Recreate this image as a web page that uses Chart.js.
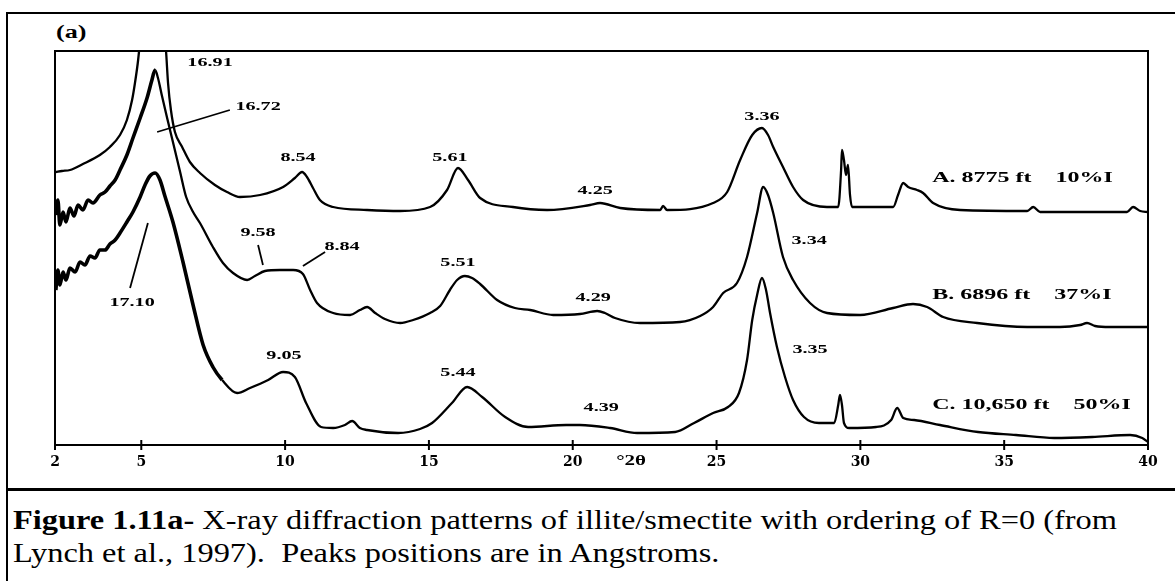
<!DOCTYPE html>
<html>
<head>
<meta charset="utf-8">
<title>XRD patterns, illite/smectite R=0</title>
<script src="https://cdn.jsdelivr.net/npm/chart.js@4.4.0/dist/chart.umd.min.js"></script>
<style>
    html, body { margin: 0; padding: 0; background: #fff; width: 1175px; height: 581px; overflow: hidden; }
    #frame { position: absolute; left: 6px; top: 12px; width: 1200px; height: 620px; border: 2px solid #000; }
    #rule { position: absolute; left: 6px; top: 488px; width: 1175px; height: 3px; background: #000; }
    #panel { position: absolute; left: 56px; top: 22px; font: bold 18px "Liberation Serif"; transform: scaleX(1.45); transform-origin: left top; }
    #caption { position: absolute; left: 13px; top: 504px; font-family: "Liberation Serif"; font-size: 27px; line-height: 33px; white-space: nowrap; color: #000; transform: scaleX(1.2); transform-origin: left top; }
    canvas { position: absolute; left: 0; top: 0; }
</style>
</head>
<body>
<div id="frame"></div>
<div id="panel">(a)</div>
<canvas id="xrd" width="1175" height="480"></canvas>
<div id="rule"></div>
<div id="caption"><b>Figure 1.11a-</b> X-ray diffraction patterns of illite/smectite with ordering of R=0 (from<br>Lynch et al., 1997).&nbsp; Peaks positions are in Angstroms.</div>

<script>
// Scan positions (degrees 2-theta) and counts (arbitrary, offset per sample)
const thetaA = [2.03, 2.24, 2.52, 2.97, 3.56, 3.91, 4.26, 4.50, 4.68, 4.78, 4.89, 4.99, 5.13, 5.30, 5.51, 5.72, 5.86, 5.93, 6.03, 6.17,
    6.42, 6.69, 7.04, 7.56, 7.98, 8.43, 9.13, 9.93, 10.34, 10.59, 10.76, 10.97, 11.21, 11.67, 12.85, 14.00, 15.04, 15.63, 16.01, 16.36,
    16.78, 17.92, 19.11, 20.60, 20.95, 21.65, 23.04, 23.14, 23.28, 24.88, 25.37, 25.82, 26.24, 26.58, 26.79, 26.97, 27.31, 27.66, 28.01, 28.84,
    29.23, 29.33, 29.36, 29.43, 29.50, 29.57, 29.64, 29.71, 31.14, 31.31, 31.49, 31.66, 31.97, 32.18, 32.53, 33.47, 35.80, 36.01, 36.25, 39.27,
    39.48, 39.73, 40.00];
const countsA = [273, 274, 275, 281, 290, 298, 310, 325, 345, 362, 385, 415, 465, 505, 485, 435, 394, 362, 335, 313,
    298, 283, 272, 260, 253, 248, 250, 258, 267, 273, 268, 257, 245, 238, 235, 234, 238, 255, 277, 265,
    247, 238, 235, 240, 242, 237, 235, 239, 235, 242, 253, 285, 310, 317, 310, 298, 278, 258, 245, 238,
    238, 275, 295, 285, 270, 280, 250, 238, 238, 250, 262, 258, 255, 252, 242, 235, 234, 238, 233, 233,
    238, 234, 233];

const thetaB = [2.03, 2.10, 2.17, 2.28, 2.38, 2.52, 2.66, 2.80, 2.97, 3.15, 3.32, 3.56, 3.74, 3.91, 4.09, 4.26, 4.50, 4.71, 4.96, 5.20,
    5.37, 5.48, 5.58, 5.72, 5.89, 6.10, 6.35, 6.56, 6.80, 7.04, 7.49, 7.84, 8.19, 8.68, 8.95, 9.30, 9.82, 10.28, 10.62, 10.87,
    11.11, 11.67, 12.26, 12.60, 12.85, 13.13, 13.47, 14.00, 14.45, 15.04, 15.39, 15.73, 15.98, 16.25, 16.50, 16.78, 17.37, 17.99, 18.52, 19.32,
    20.25, 20.85, 21.12, 21.47, 22.34, 23.73, 24.43, 24.88, 25.23, 25.71, 26.06, 26.41, 26.62, 26.79, 26.97, 27.31, 27.66, 28.25, 28.84, 29.99,
    31.14, 31.83, 32.32, 32.88, 34.06, 35.80, 36.94, 37.64, 37.88, 38.16, 38.68, 40.00];
const countsB = [230, 245, 220, 233, 223, 237, 229, 240, 235, 245, 242, 250, 253, 259, 265, 275, 290, 307, 327, 347,
    365, 375, 367, 349, 328, 303, 273, 248, 233, 222, 198, 182, 172, 165, 169, 174, 175, 175, 171, 155,
    142, 132, 130, 135, 138, 132, 126, 122, 125, 132, 139, 155, 165, 169, 167, 161, 145, 137, 135, 130,
    131, 134, 132, 127, 122, 123, 129, 138, 152, 162, 188, 232, 258, 250, 232, 188, 165, 142, 132, 130,
    137, 141, 138, 128, 122, 118, 118, 120, 122, 119, 118, 118];

const thetaC = [2.03, 2.10, 2.17, 2.28, 2.38, 2.52, 2.70, 2.87, 3.04, 3.22, 3.39, 3.56, 3.74, 3.91, 4.09, 4.26, 4.50, 4.71, 4.96, 5.13,
    5.30, 5.48, 5.65, 5.82, 6.10, 6.45, 6.80, 7.15, 7.49, 7.81, 8.33, 8.78, 9.41, 9.93, 10.34, 10.73, 11.25, 11.67, 12.08, 12.33,
    12.60, 12.85, 13.93, 14.69, 15.11, 15.80, 16.33, 16.85, 17.65, 18.45, 19.77, 20.25, 21.30, 22.24, 23.56, 24.22, 24.88, 25.40, 25.78, 26.06,
    26.24, 26.41, 26.58, 26.72, 26.86, 27.10, 27.38, 27.66, 28.04, 28.56, 29.09, 29.23, 29.29, 29.36, 29.43, 29.61, 30.55, 31.07, 31.28, 31.49,
    31.87, 32.77, 34.09, 35.41, 36.74, 38.06, 39.38, 39.80, 40.00];
const countsC = [155, 175, 160, 173, 165, 177, 173, 183, 180, 189, 187, 195, 195, 201, 205, 212, 223, 233, 248, 260,
    269, 272, 265, 249, 223, 183, 140, 100, 78, 65, 52, 57, 65, 73, 68, 42, 18, 17, 20, 24,
    17, 15, 12, 16, 22, 42, 58, 48, 28, 18, 20, 20, 17, 12, 13, 22, 32, 38, 52, 85,
    125, 150, 167, 155, 132, 98, 68, 45, 28, 22, 22, 40, 50, 40, 22, 17, 18, 25, 37, 27,
    25, 20, 13, 10, 7, 8, 10, 7, 3];

const tickValues = [2, 5, 10, 15, 20, 25, 30, 35, 40];

// d-spacing labels (Angstroms) anchored in 2-theta / counts
const peakLabels = ['16.91', '16.72', '8.54', '5.61', '4.25', '3.36', '9.58', '8.84', '5.51', '4.29', '3.34', '17.10', '9.05', '5.44', '4.39', '3.35'];
const peakTheta = [7.39, 9.06, 10.45, 15.73, 20.78, 26.58, 9.06, 11.98, 16.01, 20.71, 28.22, 4.68, 9.96, 16.01, 20.99, 28.25];
const peakCounts = [382, 338, 287, 287, 254, 328, 212, 198, 182, 147, 204, 142, 89, 72, 37, 95];

// leader lines: [theta1, counts1, theta2, counts2]
const leaders = [[8.08, 335, 5.55, 313], [9.06, 200, 9.23, 180], [11.39, 193, 10.62, 179], [4.61, 157, 5.23, 222]];

const sampleNames = ['A. 8775 ft    10%I', 'B. 6896 ft    37%I', 'C. 10,650 ft    50%I'];
const sampleNameCounts = [267, 150, 40];
const sampleNameTheta = 32.5;

function points(theta, counts) {
    return theta.map((t, i) => ({ x: t, y: counts[i] }));
}

// wide serif text, as in the original plot
function wideText(ctx, text, x, y, align, size, stretch) {
    ctx.save();
    ctx.translate(x, y);
    ctx.scale(stretch || 1.5, 1);
    ctx.font = `bold ${size}px "Liberation Serif"`;
    ctx.fillStyle = '#000';
    ctx.textAlign = align;
    ctx.textBaseline = 'middle';
    ctx.fillText(text, 0, 0);
    ctx.restore();
}

const framePlugin = {
    id: 'frame',
    afterDraw(chart) {
        const { ctx, chartArea, scales } = chart;
        ctx.save();
        ctx.strokeStyle = '#000';
        ctx.lineWidth = 2;
        ctx.strokeRect(chartArea.left, chartArea.top, chartArea.right - chartArea.left, chartArea.bottom - chartArea.top);
        tickValues.forEach(v => {
            const px = scales.x.getPixelForValue(v);
            ctx.beginPath();
            ctx.moveTo(px, chartArea.bottom - 5);
            ctx.lineTo(px, chartArea.bottom + 5);
            ctx.stroke();
        });
        wideText(ctx, '\u00B02\u03B8', scales.x.getPixelForValue(22.03), chartArea.bottom + 16, 'center', 14);
        ctx.restore();
    }
};

const labelPlugin = {
    id: 'peakLabels',
    afterDatasetsDraw(chart) {
        const { ctx, scales } = chart;
        const x = scales.x, y = scales.y;
        peakLabels.forEach((text, i) => {
            wideText(ctx, text, x.getPixelForValue(peakTheta[i]), y.getPixelForValue(peakCounts[i]), 'center', 13, 1.55);
        });
        sampleNames.forEach((text, i) => {
            wideText(ctx, text, x.getPixelForValue(sampleNameTheta), y.getPixelForValue(sampleNameCounts[i]), 'left', 15, 1.6);
        });
        ctx.save();
        ctx.strokeStyle = '#000';
        ctx.lineWidth = 1.8;
        leaders.forEach(l => {
            ctx.beginPath();
            ctx.moveTo(x.getPixelForValue(l[0]), y.getPixelForValue(l[1]));
            ctx.lineTo(x.getPixelForValue(l[2]), y.getPixelForValue(l[3]));
            ctx.stroke();
        });
        ctx.restore();
    }
};

// the start of each scan is noisy, drawn heavier
const heavyBelow = limit => ctx => (ctx.p0.parsed.x < limit ? 3.6 : undefined);

const chart = new Chart(document.getElementById('xrd').getContext('2d'), {
    type: 'line',
    data: {
        datasets: [
            { label: 'A', data: points(thetaA, countsA) },
            { label: 'B', data: points(thetaB, countsB), segment: { borderWidth: heavyBelow(5.45) } },
            { label: 'C', data: points(thetaC, countsC), segment: { borderWidth: heavyBelow(7.6) } }
        ]
    },
    options: {
        responsive: false,
        animation: false,
        devicePixelRatio: 1,
        layout: { padding: { left: 55, right: 27, top: 51, bottom: 0 } },
        plugins: { legend: { display: false }, tooltip: { enabled: false } },
        elements: {
            point: { radius: 0 },
            line: { borderColor: '#000', borderWidth: 2.3, cubicInterpolationMode: 'monotone', borderJoinStyle: 'round' }
        },
        scales: {
            x: {
                type: 'linear',
                min: 2,
                max: 40,
                grid: { display: false, drawTicks: false },
                border: { display: false },
                afterBuildTicks: axis => { axis.ticks = tickValues.map(v => ({ value: v })); },
                afterFit: scale => { scale.height = 35; },
                ticks: {
                    padding: 9,
                    color: '#000',
                    autoSkip: false,
                    maxRotation: 0,
                    font: { family: 'DejaVu Serif', size: 14, weight: 'bold' }
                }
            },
            y: { display: false, min: 0, max: 394 }
        }
    },
    plugins: [framePlugin, labelPlugin]
});
</script>
</body>
</html>
